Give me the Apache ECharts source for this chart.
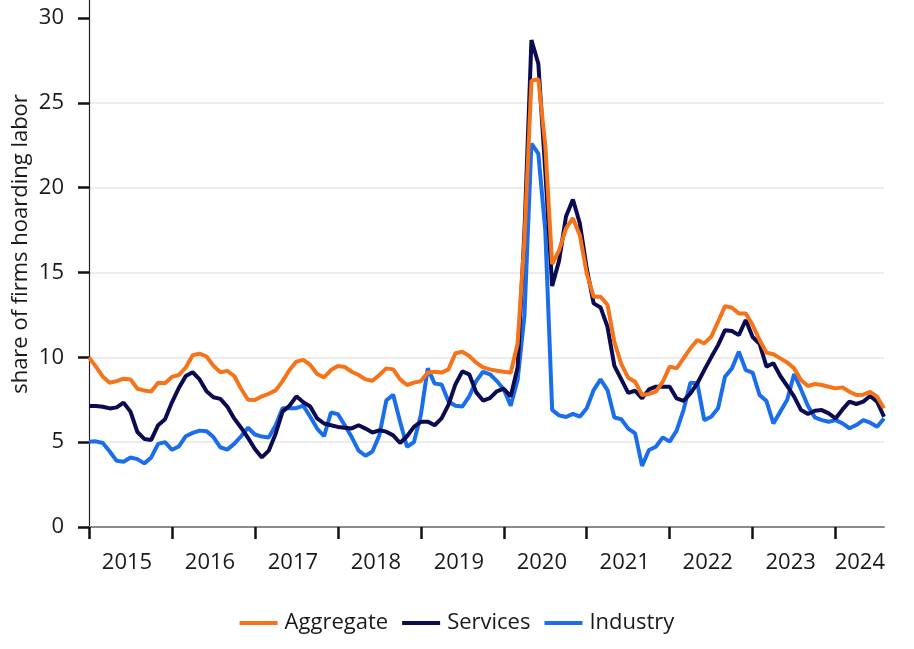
<!DOCTYPE html>
<html><head><meta charset="utf-8">
<script src="https://cdn.jsdelivr.net/npm/echarts@6/dist/echarts.min.js"></script>
<style>html,body{margin:0;padding:0;background:#fff}#c{width:914px;height:649px}</style>
</head><body><div id="c"></div>
<script>
// Monthly data, Jan 2015 .. Aug 2024
const firstYear = 2015;
const yearLabels = ['2015','2016','2017','2018','2019','2020','2021','2022','2023','2024'];
const yTicks = [0, 5, 10, 15, 20, 25, 30];
const yTitle = 'share of firms hoarding labor';

const aggregate = [
10.0, 9.45, 8.86, 8.5, 8.6, 8.74, 8.7, 8.15, 8.05, 7.98, 8.5, 8.47,
8.85, 8.96, 9.4, 10.12, 10.22, 10.05, 9.5, 9.12, 9.2, 8.9, 8.15, 7.5,
7.48, 7.7, 7.85, 8.05, 8.6, 9.25, 9.75, 9.85, 9.55, 9.02, 8.82, 9.25,
9.49, 9.43, 9.15, 8.96, 8.7, 8.62, 8.96, 9.35, 9.29, 8.7, 8.37, 8.51,
8.6, 9.1, 9.15, 9.1, 9.29, 10.24, 10.33, 10.08, 9.69, 9.41, 9.29, 9.21,
9.15, 9.09, 10.82, 17.0, 26.3, 26.4, 22.5, 15.5, 16.3, 17.6, 18.2, 17.2,
14.95, 13.57, 13.57, 13.1, 10.9, 9.6, 8.8, 8.56, 7.78, 7.84, 7.98, 8.56,
9.45, 9.35, 9.94, 10.53, 11.02, 10.82, 11.21, 12.1, 13.02, 12.92, 12.59, 12.59,
11.9, 11.02, 10.27, 10.18, 9.94, 9.7, 9.35, 8.66, 8.31, 8.43, 8.37, 8.27,
8.17, 8.23, 7.97, 7.78, 7.8, 7.96, 7.68, 7.0
];

const services = [
7.13, 7.13, 7.09, 6.99, 7.05, 7.33, 6.8, 5.6, 5.19, 5.13, 6.0, 6.35,
7.35, 8.2, 8.9, 9.12, 8.7, 8.0, 7.65, 7.55, 7.1, 6.4, 5.85, 5.25,
4.6, 4.1, 4.5, 5.5, 6.8, 7.15, 7.7, 7.35, 7.1, 6.4, 6.1, 6.0,
5.9, 5.85, 5.81, 6.0, 5.8, 5.57, 5.7, 5.62, 5.4, 4.95, 5.35, 5.9,
6.2, 6.21, 6.0, 6.4, 7.2, 8.4, 9.17, 9.0, 7.95, 7.45, 7.6, 8.0,
8.15, 7.7, 9.4, 17.5, 28.7, 27.3, 21.0, 14.2, 15.7, 18.3, 19.3, 17.9,
15.24, 13.18, 12.94, 11.8, 9.5, 8.7, 7.9, 8.03, 7.58, 8.11, 8.27, 8.27,
8.27, 7.58, 7.44, 7.88, 8.47, 9.25, 10.0, 10.72, 11.6, 11.55, 11.31, 12.2,
11.2, 10.8, 9.45, 9.65, 8.9, 8.31, 7.68, 6.89, 6.66, 6.85, 6.89, 6.7,
6.4, 6.93, 7.39, 7.25, 7.39, 7.72, 7.39, 6.5
];

const industry = [
5.03, 5.05, 4.95, 4.45, 3.9, 3.85, 4.1, 4.0, 3.75, 4.1, 4.9, 5.0,
4.55, 4.75, 5.35, 5.55, 5.68, 5.65, 5.3, 4.7, 4.56, 4.9, 5.35, 5.85,
5.45, 5.33, 5.28, 6.0, 7.0, 7.0, 7.0, 7.15, 6.5, 5.8, 5.35, 6.75,
6.65, 6.0, 5.3, 4.5, 4.2, 4.45, 5.4, 7.45, 7.8, 6.2, 4.73, 5.0,
6.6, 9.35, 8.45, 8.4, 7.4, 7.15, 7.1, 7.7, 8.6, 9.15, 9.0, 8.6,
8.1, 7.15, 8.66, 12.5, 22.6, 22.0, 17.5, 6.9, 6.58, 6.48, 6.67, 6.5,
7.0, 8.07, 8.7, 8.07, 6.45, 6.35, 5.8, 5.52, 3.6, 4.54, 4.73, 5.28,
5.03, 5.68, 6.89, 8.5, 8.47, 6.3, 6.5, 7.0, 8.86, 9.35, 10.33, 9.25,
9.1, 7.78, 7.42, 6.1, 6.8, 7.5, 9.02, 8.11, 7.13, 6.46, 6.3, 6.2,
6.3, 6.11, 5.82, 6.01, 6.3, 6.15, 5.91, 6.4
];

const nMonths = aggregate.length;
const lastIdx = nMonths - 1;
// year-start tick positions and label positions (centre of each year's visible span)
const yearStarts = yearLabels.map((y, k) => k * 12);
const labelPos = yearLabels.map((y, k) => (k * 12 + Math.min(k * 12 + 11, lastIdx)) / 2);
const toPairs = arr => arr.map((v, i) => [i, v]);

const FONT = '"Open Sans", "Noto Sans", sans-serif';
const TXT = '#1a1a1a';
const chart = echarts.init(document.getElementById('c'), null, {renderer: 'canvas'});
chart.setOption({
  animation: false,
  backgroundColor: '#ffffff',
  grid: {left: 89, right: 30, top: 0, bottom: 122, containLabel: false},
  graphic: [{
    type: 'text', x: 21, y: 244, rotation: Math.PI / 2, silent: true,
    style: {text: yTitle, font: '22px "Open Sans", "Noto Sans", sans-serif', fill: TXT,
            align: 'center', verticalAlign: 'middle', textAlign: 'center', textVerticalAlign: 'middle'}
  }],
  legend: {
    top: 607, left: 'center',
    icon: 'rect', itemWidth: 38, itemHeight: 4, itemGap: 14,
    textStyle: {fontFamily: FONT, fontSize: 22, color: TXT, padding: [0, 0, 0, 2]},
    data: ['Aggregate', 'Services', 'Industry']
  },
  xAxis: {
    type: 'value', min: 0, max: lastIdx,
    axisLine: {show: true, lineStyle: {color: '#8a8a8a', width: 2}},
    axisTick: {show: true, customValues: yearStarts, length: 12, lineStyle: {color: '#111', width: 2.5}},
    axisLabel: {
      customValues: labelPos, margin: 25,
      fontFamily: FONT, fontSize: 22, color: TXT,
      formatter: v => { const k = labelPos.findIndex(p => Math.abs(p - v) < 1e-6); return k >= 0 ? yearLabels[k] : ''; }
    },
    splitLine: {show: false}
  },
  yAxis: {
    type: 'value', min: 0, max: 30 * 527 / 509, interval: 5,
    axisLine: {show: true, lineStyle: {color: '#222', width: 1.2}},
    axisTick: {show: true, customValues: yTicks, length: 11, lineStyle: {color: '#111', width: 2.5}},
    axisLabel: {customValues: yTicks, margin: 25, fontFamily: FONT, fontSize: 22, color: TXT},
    splitLine: {show: true, showMaxLine: false, showMinLine: false, lineStyle: {color: '#ececec', width: 2}}
  },
  series: [
    {name: 'Aggregate', type: 'line', data: toPairs(aggregate), showSymbol: false, symbol: 'none',
     lineStyle: {color: '#F57319', width: 4}, itemStyle: {color: '#F57319'}, z: 3},
    {name: 'Services', type: 'line', data: toPairs(services), showSymbol: false, symbol: 'none',
     lineStyle: {color: '#0B0B52', width: 4}, itemStyle: {color: '#0B0B52'}, z: 2},
    {name: 'Industry', type: 'line', data: toPairs(industry), showSymbol: false, symbol: 'none',
     lineStyle: {color: '#1A6EEB', width: 4}, itemStyle: {color: '#1A6EEB'}, z: 1}
  ]
});
</script>
</body></html>
